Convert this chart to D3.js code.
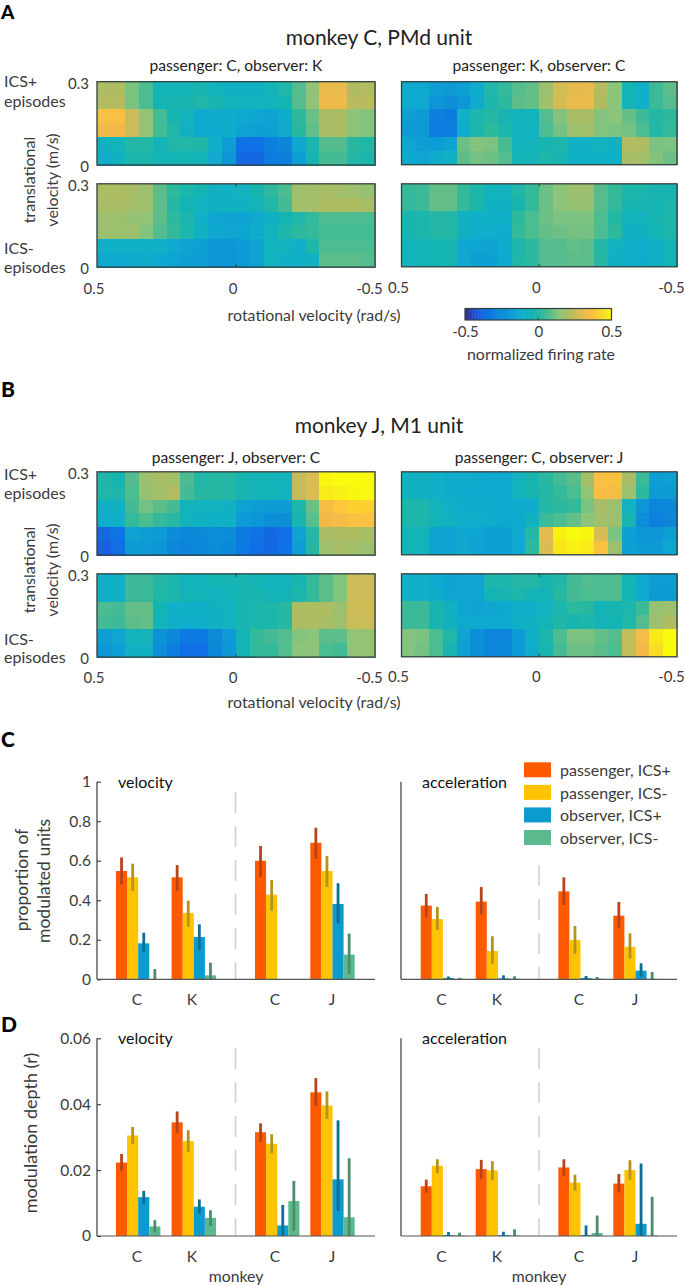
<!DOCTYPE html>
<html><head><meta charset="utf-8">
<style>html,body{margin:0;padding:0;background:#fff}svg{display:block}
text{font-family:"Lato",sans-serif;fill:#3a3a3a}</style>
<script src="https://cdn.jsdelivr.net/npm/d3@7"></script></head><body>
<div id="chart"></div>
<script>
// normalized firing rate, hundredths; rows from high to low translational velocity, columns from +0.5 to -0.5 rad/s
const mapA1plus=[
[20,20,12,6,-5,-5,-5,-3,-6,-8,-8,-8,-5,-1,7,15,31,31,20,21],
[21,21,12,6,-4,-3,-3,-1,-3,-6,-7,-7,-6,-4,7,15,32,32,22,22],
[36,36,25,15,5,-3,-6,-13,-12,-12,-14,-15,-16,-12,2,10,19,19,14,13],
[33,33,25,15,5,-1,-8,-14,-13,-12,-16,-17,-17,-13,1,9,19,19,14,13],
[-8,-6,0,0,-5,-1,0,-1,-10,-18,-36,-36,-30,-28,-14,-2,7,7,1,-1],
[-11,-8,-2,-2,-5,-4,-4,-5,-13,-22,-38,-38,-32,-30,-17,-3,5,5,0,-2]];
const mapA1minus=[
[20,20,19,17,8,2,-2,-4,-8,-9,-7,-3,2,6,17,18,19,18,17,16],
[19,19,18,17,8,0,-4,-7,-8,-8,-8,-5,-1,5,18,18,20,20,20,19],
[17,17,16,15,8,2,-2,-10,-15,-16,-16,-14,-9,-4,-1,3,6,6,6,6],
[17,17,17,13,7,3,-2,-8,-14,-15,-15,-12,-7,-1,2,3,5,5,5,5],
[-10,-10,-9,-9,-10,-13,-16,-17,-21,-22,-19,-16,-7,-7,-10,-1,6,6,6,6],
[-14,-14,-13,-12,-14,-15,-17,-18,-22,-22,-20,-16,-7,-10,-10,-8,8,8,8,7]];
const mapA2plus=[
[-14,-14,-18,-20,-17,-12,-1,3,7,9,17,27,30,31,21,14,-4,-10,4,8],
[-14,-14,-22,-24,-21,-13,-2,2,8,9,18,27,31,32,20,14,-5,-10,4,7],
[-18,-19,-30,-32,-10,-2,0,-3,-6,-6,7,13,19,19,13,14,9,4,0,2],
[-20,-20,-31,-31,-12,-2,2,-2,-7,-7,6,11,17,18,13,12,11,6,0,3],
[-15,-18,-19,-16,10,13,12,5,-6,-6,-3,-2,-8,-9,-7,-8,21,20,12,12],
[-14,-15,-12,-9,8,11,10,7,-5,-5,-2,-3,-9,-10,-9,-10,19,18,13,10]];
const mapA2minus=[
[3,4,9,9,3,-2,-6,-6,-1,3,10,14,17,17,7,3,-2,-2,-3,-3],
[3,4,9,9,3,-2,-8,-8,-3,3,10,14,16,16,7,3,-3,-3,-4,-2],
[-3,-2,0,0,-8,-10,-10,-10,2,6,10,12,12,12,6,0,-6,-7,-3,-2],
[-3,-2,0,0,-8,-11,-11,-12,3,6,9,10,11,11,6,2,-8,-8,-4,-2],
[-6,-5,-4,-3,-14,-15,-16,-12,-2,2,7,7,9,8,-1,-7,-11,-11,-9,-5],
[-6,-5,-4,-3,-14,-17,-17,-14,-1,2,7,7,8,8,0,-8,-11,-12,-9,-5]];
const mapB1plus=[
[-1,-3,7,17,19,18,6,-1,0,0,-3,-5,-5,-6,24,28,49,50,50,50],
[-1,-2,6,16,18,21,5,1,1,0,-3,-5,-5,-7,24,28,47,48,49,50],
[-9,-8,5,11,8,5,-6,-7,-7,-8,-16,-18,-20,-19,-2,10,34,38,41,41],
[-11,-9,3,6,3,1,-7,-8,-9,-9,-20,-22,-24,-24,-3,8,33,34,36,37],
[-38,-35,-16,-18,-20,-25,-27,-26,-24,-25,-33,-35,-38,-37,-16,0,19,20,20,19],
[-40,-37,-20,-20,-22,-27,-29,-27,-25,-27,-33,-37,-38,-36,-18,0,17,19,18,17]];
const mapB1minus=[
[-10,-8,4,4,0,-2,-6,-6,-4,-4,-3,-4,-6,-6,-3,3,8,13,26,25],
[-10,-9,4,4,-1,-2,-5,-5,-7,-5,-3,-3,-5,-5,-2,3,8,13,26,25],
[6,5,9,9,-4,-10,-10,-10,-8,-7,-3,-2,-2,1,20,20,20,17,26,26],
[5,4,8,9,-5,-10,-11,-10,-8,-7,-3,-2,-2,1,20,20,19,17,25,25],
[-18,-15,-6,-5,-23,-27,-33,-33,-26,-20,-4,3,5,7,13,14,8,8,15,16],
[-21,-18,-9,-8,-24,-31,-37,-37,-27,-21,-4,3,3,7,14,14,6,5,15,16]];
const mapB2plus=[
[-8,-8,-10,-12,-12,-13,-14,-14,-7,-3,1,5,8,18,36,36,19,4,-18,-17],
[-8,-8,-10,-12,-13,-14,-14,-14,-7,-3,0,3,6,15,35,34,17,2,-20,-20],
[-2,-2,-6,-10,-12,-12,-12,-14,-13,-12,0,2,3,12,19,17,-7,-22,-28,-27],
[-2,-2,-5,-8,-11,-11,-12,-14,-14,-8,4,6,9,14,18,17,-3,-24,-30,-28],
[-5,-5,-16,-16,-14,-15,-17,-17,-13,0,30,48,50,49,28,12,-17,-21,-21,-18],
[-5,-6,-16,-16,-14,-16,-17,-17,-14,2,28,46,48,47,36,17,-17,-20,-20,-15]];
const mapB2minus=[
[-10,-10,-14,-16,-15,-15,-2,-2,0,0,-3,-1,5,7,6,6,-4,-14,-18,-18],
[-10,-10,-12,-15,-15,-15,-4,-3,-2,-4,-5,1,5,6,6,6,-4,-13,-20,-20],
[4,4,-3,-8,-15,-16,-15,-14,-11,-10,-7,-2,2,1,-5,-3,-2,4,16,17],
[4,4,-3,-8,-14,-14,-14,-13,-10,-8,-5,-1,-3,-2,-5,-4,-1,7,17,20],
[13,12,6,-1,-16,-24,-28,-28,-19,-10,-2,6,12,12,9,7,24,34,47,50],
[13,11,6,-3,-17,-24,-28,-27,-19,-12,-3,5,10,10,8,6,24,33,44,50]];

const seriesNames=["passenger, ICS+","passenger, ICS-","observer, ICS+","observer, ICS-"];
const groupLabelsLeft=["C","K","C","J"];
const groupKeys=["g1","g2","g3","g4"];
// [value, error low, error high] per group, per series
const propVelocity=[
[[.548,.48,.617],[.516,.447,.585],[.182,.14,.236],[0,0,.052]],
[[.516,.447,.578],[.336,.266,.398],[.214,.148,.278],[.02,0,.084]],
[[.6,.519,.675],[.428,.347,.503],[0,0,0],[0,0,0]],
[[.691,.609,.767],[.548,.467,.624],[.381,.283,.486],[.125,.027,.231]]];
const propAccel=[
[[.373,.314,.432],[.305,.25,.366],[.007,0,.014],[.003,0,.007]],
[[.393,.33,.467],[.143,.079,.218],[.005,0,.02],[.003,0,.015]],
[[.445,.376,.516],[.199,.128,.27],[.007,0,.017],[.003,0,.012]],
[[.322,.261,.391],[.164,.105,.233],[.044,.013,.081],[.003,0,.037]]];
const depthVelocity=[
[[.0223,.0198,.0249],[.0305,.0279,.0331],[.0118,.0097,.0137],[.0029,.001,.0048]],
[[.0345,.0312,.0378],[.0288,.0255,.0321],[.0089,.0068,.0111],[.0055,.003,.0078]],
[[.0315,.0285,.0342],[.028,.0251,.0309],[.0032,0,.0094],[.0106,.0016,.0167]],
[[.0436,.0395,.0479],[.0396,.0355,.0439],[.0172,.0076,.0351],[.0057,0,.0236]]];
const depthAccel=[
[[.0151,.0131,.0171],[.0213,.0191,.0233],[.0003,0,.0012],[.0002,0,.001]],
[[.0203,.0174,.0231],[.0199,.0169,.0227],[.0003,0,.0013],[.0002,0,.002]],
[[.0208,.0183,.0233],[.0162,.0138,.0186],[.0003,0,.0032],[.0009,0,.0062]],
[[.0159,.0132,.0188],[.02,.0171,.023],[.0037,0,.022],[.0002,0,.0119]]];
const propTicks=[0,.2,.4,.6,.8,1];
const depthTicks=[0,.02,.04,.06];
const cmapValues=[-.5,-.42,-.36,-.26,-.18,-.10,-.04,.02,.08,.14,.20,.27,.33,.39,.45,.5];
const cmapColors=["#35308f","#1f58dd","#0e72e6","#0c8ad8","#0d9fd4","#10b0c8","#14b4b4","#2cb99e","#5cbd8b","#8cc47a","#aebc62","#d4bc55","#f3b948","#ffc83a","#f8e020","#f9fb0e"];
const barColors=["#ff5a00","#ffc300","#0c9bcf","#5cb98e"];
const errColors=["#b8431a","#b8931a","#0b6e96","#4a8c6b"];

const W=685,H=1286,INK="#3a3a3a",FRAME="#2f4040";
const svg=d3.select("#chart").append("svg").attr("width",W).attr("height",H).attr("viewBox",[0,0,W,H]);
const color=d3.scaleLinear().domain(cmapValues).range(cmapColors).clamp(true);
const rateFmt=d=>d===0?"0":(d<0?"-":"")+d3.format(".1f")(Math.abs(d));

function txt(x,y,s,size,opts={}){
  const t=svg.append("text").attr("x",x).attr("y",y).attr("font-size",size).text(s)
    .attr("text-anchor",opts.anchor||"start");
  if(opts.rot) t.attr("transform",`rotate(-90 ${x} ${y})`);
  if(opts.fill) t.style("fill",opts.fill);
  if(opts.weight) t.attr("font-weight",opts.weight);
  return t;
}
function styleAxis(g,size){
  g.selectAll(".domain").attr("stroke","none");
  g.selectAll("text").attr("font-size",size).attr("font-family",null).style("fill",INK);
}
const TS=16, TICK=15;
function heat(matrix,x0,x1,y0,y1,opts){
  const cols=d3.range(matrix[0].length), rows=d3.range(matrix.length);
  const xb=d3.scaleBand().domain(cols).range([x0,x1]);
  const yb=d3.scaleBand().domain(rows).range([y0,y1]);
  const g=svg.append("g").attr("shape-rendering","crispEdges");
  rows.forEach(r=>g.selectAll(null).data(matrix[r]).join("rect")
    .attr("x",(d,i)=>xb(i)).attr("y",yb(r)).attr("width",xb.bandwidth()+.6).attr("height",yb.bandwidth()+.6)
    .attr("fill",d=>color(d/100)));
  svg.append("rect").attr("x",x0).attr("y",y0).attr("width",x1-x0).attr("height",y1-y0)
    .attr("fill","none").attr("stroke",FRAME).attr("stroke-width",1.3);
  const rot=d3.scaleLinear().domain([.5,-.5]).range([x0,x1]);
  if(opts.yAxis){
    const ys=d3.scaleLinear().domain([0,.3]).range([y1,y0]);
    const a=svg.append("g").attr("transform",`translate(${x0},0)`)
      .call(d3.axisLeft(ys).tickValues([0,.3]).tickFormat(d=>d?"0.3":"0").tickSize(0).tickPadding(8));
    styleAxis(a,TICK); a.selectAll("text").attr("dy","0.62em").attr("y",-3);
  }
  if(opts.midTicks){
    [[y0,y0+3],[y1-3,y1]].forEach(([a,b])=>svg.append("line").attr("x1",rot(0)).attr("x2",rot(0)).attr("y1",a).attr("y2",b)
      .attr("stroke",FRAME).attr("stroke-width",1));
  }
  if(opts.xAxis){
    const a=svg.append("g").attr("transform",`translate(0,${y1})`)
      .call(d3.axisBottom(rot).tickValues([.5,0,-.5]).tickFormat(rateFmt).tickSize(0).tickPadding(opts.xPad));
    styleAxis(a,TICK); a.selectAll("text").attr("dx",d=>d<0?-6:-3.5);
  }
}
function heatBlock(maps,tops,titleY,subY,title,subs,epi,rotY,rotLabelY,xPad){
  const L=[97,375],R=[401.5,677];
  txt(379,titleY,title,21,{anchor:"middle",fill:"#222"});
  txt(236,subY,subs[0],15.6,{anchor:"middle",fill:"#222"});
  txt(539,subY,subs[1],15.6,{anchor:"middle",fill:"#222"});
  heat(maps[0],L[0],L[1],tops[0],tops[0]+83.3,{yAxis:true});
  heat(maps[1],L[0],L[1],tops[1],tops[1]+83.3,{yAxis:true,xAxis:true,midTicks:true,xPad});
  heat(maps[2],R[0],R[1],tops[0],tops[0]+83,{});
  heat(maps[3],R[0],R[1],tops[1],tops[1]+83,{xAxis:true,midTicks:true,xPad});
  txt(4,epi[0],"ICS+",TS); txt(4,epi[1],"episodes",TS);
  txt(4,epi[2],"ICS-",TS); txt(4,epi[3],"episodes",TS);
  txt(35,rotY,"translational",TS,{anchor:"middle",rot:true});
  txt(58,rotY,"velocity (m/s)",TS,{anchor:"middle",rot:true});
  txt(314,rotLabelY,"rotational velocity (rad/s)",15.9,{anchor:"middle"});
}
heatBlock([mapA1plus,mapA1minus,mapA2plus,mapA2minus],[81.7,183.8],45,71,"monkey C, PMd unit",
  ["passenger: C, observer: K","passenger: K, observer: C"],[87,107,254,273],180,321,16);
heatBlock([mapB1plus,mapB1minus,mapB2plus,mapB2minus],[471.8,573.8],433,463,"monkey J, M1 unit",
  ["passenger: J, observer: C","passenger: C, observer: J"],[480,499,645,663],570,708,15);

// colour bar
(function(){
  const cb=d3.scaleLinear().domain([-.5,.5]).range([465,611.5]);
  const vals=d3.range(-.5,.4901,.01);
  svg.append("g").selectAll("rect").data(vals).join("rect")
    .attr("x",d=>cb(d)).attr("y",308.5).attr("width",2).attr("height",11.5).attr("fill",d=>color(d));
  svg.append("rect").attr("x",465).attr("y",308.5).attr("width",146.5).attr("height",11.5).attr("fill","none").attr("stroke",FRAME).attr("stroke-width",1.2);
  svg.append("line").attr("x1",cb(0)).attr("x2",cb(0)).attr("y1",317.5).attr("y2",320).attr("stroke",FRAME);
  const a=svg.append("g").attr("transform","translate(0,320)")
    .call(d3.axisBottom(cb).tickValues([-.5,0,.5]).tickFormat(rateFmt).tickSize(0).tickPadding(6));
  styleAxis(a,TICK);
  txt(541,360,"normalized firing rate",15.9,{anchor:"middle"});
})();

// bars
function barPanel(data,cfg){
  const [x0,x1]=cfg.range;
  const y=d3.scaleLinear().domain([0,cfg.max]).range([cfg.base,cfg.top]);
  const gx=d3.scaleOrdinal().domain(groupKeys).range(cfg.starts);
  const sx=d3.scaleBand().domain(seriesNames).range([0,44.4]);
  svg.append("line").attr("x1",cfg.sep).attr("x2",cfg.sep).attr("y1",cfg.sepTop).attr("y2",cfg.base)
    .attr("stroke","#cfcfcf").attr("stroke-width",1.5).attr("stroke-dasharray","21 13");
  data.forEach((grp,gi)=>grp.forEach((d,si)=>{
    const bx=gx(groupKeys[gi])+sx(seriesNames[si]);
    if(d[0]>0) svg.append("rect").attr("x",bx).attr("y",y(d[0])).attr("width",sx.bandwidth()).attr("height",y(0)-y(d[0])).attr("fill",barColors[si]);
    if(d[2]>d[1]) svg.append("rect").attr("x",bx+sx.bandwidth()/2-1.4).attr("y",y(d[2])).attr("width",2.8).attr("height",y(d[1])-y(d[2])).attr("fill",errColors[si]);
  }));
  svg.append("line").attr("x1",x0).attr("x2",x1).attr("y1",cfg.base).attr("y2",cfg.base).attr("stroke","#555").attr("stroke-width",1.2);
  const ax=svg.append("g").attr("transform",`translate(${x0},0)`);
  if(cfg.ticks){
    ax.call(d3.axisLeft(y).tickValues(cfg.ticks).tickFormat(cfg.fmt).tickSize(-4).tickSizeOuter(0).tickPadding(6));
    styleAxis(ax,15.5); ax.selectAll("line").attr("stroke",INK).attr("stroke-width",1.1);
  }
  svg.append("line").attr("x1",x0).attr("x2",x0).attr("y1",cfg.top).attr("y2",cfg.base).attr("stroke",INK).attr("stroke-width",1.2);
  const lab=d3.scaleOrdinal().domain(groupKeys).range(cfg.labels);
  groupLabelsLeft.forEach((s,i)=>txt(lab(groupKeys[i]),cfg.labelY,s,15.5,{anchor:"middle"}));
  txt(cfg.titleX,cfg.titleY,cfg.title,16,{fill:"#111"});
}
const leftStarts=[116,171.6,255,310.3], rightStarts=[420.7,475.7,558.3,613.3];
const leftLabels=[137,192,275,332], rightLabels=[441.5,497,579,635];
const propFmt=d=>d===0?"0":d===1?"1":d3.format(".1f")(d);
const depthFmt=d=>d===0?"0":d3.format(".2f")(d);
barPanel(propVelocity,{range:[97,375],base:979.3,top:781.7,max:1,starts:leftStarts,labels:leftLabels,sep:235.5,sepTop:792,ticks:propTicks,fmt:propFmt,labelY:1005,title:"velocity",titleX:118,titleY:788});
barPanel(propAccel,{range:[401,677],base:979.3,top:781.7,max:1,starts:rightStarts,labels:rightLabels,sep:539,sepTop:865,labelY:1005,title:"acceleration",titleX:422,titleY:788});
barPanel(depthVelocity,{range:[97,375],base:1236,top:1038.3,max:.06,starts:leftStarts,labels:leftLabels,sep:235.5,sepTop:1048,ticks:depthTicks,fmt:depthFmt,labelY:1262,title:"velocity",titleX:118,titleY:1044});
barPanel(depthAccel,{range:[401,677],base:1236,top:1038.3,max:.06,starts:rightStarts,labels:rightLabels,sep:539,sepTop:1048,labelY:1262,title:"acceleration",titleX:422,titleY:1044});

txt(28,880,"proportion of",17.5,{anchor:"middle",rot:true});
txt(50,881,"modulated units",17.5,{anchor:"middle",rot:true});
txt(37,1133,"modulation depth (r)",18,{anchor:"middle",rot:true});
txt(236,1282,"monkey",15.8,{anchor:"middle"});
txt(539,1282,"monkey",15.8,{anchor:"middle"});

// legend
const legY=d3.scalePoint().domain(seriesNames).range([762.3,830]);
seriesNames.forEach((s,i)=>{
  svg.append("rect").attr("x",524).attr("y",legY(s)).attr("width",27).attr("height",15).attr("fill",barColors[i]);
  txt(560,legY(s)+13.7,s,16);
});

// panel letters
[["A",18.8,19],["B",397,21],["C",747,21],["D",1032,21]].forEach(([s,y,z])=>txt(1,y,s,z,{weight:900,fill:"#000"}));
</script></body></html>
